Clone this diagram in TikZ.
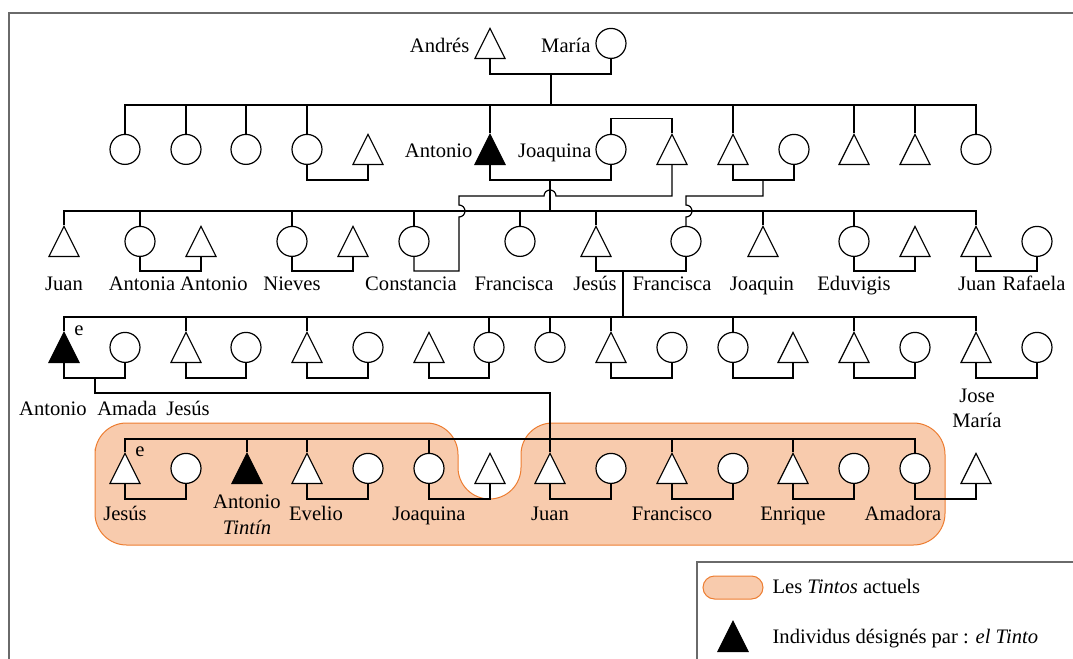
\documentclass[tikz,border=0pt]{standalone}
\usepackage{fontspec}
\setmainfont{Liberation Serif}
\usepackage{tikz}
\usetikzlibrary{shapes.geometric}
\definecolor{tintfill}{HTML}{F8CBAD}
\definecolor{tintline}{HTML}{ED7D31}
\definecolor{framegray}{HTML}{6A6A6A}

\begin{document}
\begin{tikzpicture}[x=0.5pt,y=-0.5pt,line width=0.6pt,
	man/.style={draw,fill=white,isosceles triangle,isosceles triangle stretches,shape border rotate=90,minimum width=15pt,minimum height=15pt,inner sep=0pt,anchor=south},
	woman/.style={draw,fill=white,circle,minimum size=15pt,inner sep=0pt,anchor=south},
	tinto/.style={man,fill=black},
	nm/.style={inner sep=0pt,anchor=base,font=\fontsize{10.3}{12}\selectfont},
	tintos/.style={fill=tintfill,draw=tintline,line width=0.5pt},
	cadre/.style={draw=framegray,line width=0.75pt}]
		\useasboundingbox (0,0) rectangle (1073,659);
		\draw[cadre] (9,659) -- (9,13) -- (1073,13);
		\filldraw[tintos,rounded corners=15.75pt] (95,480) -- (95,423) -- (458,423) -- (458,499) -- (521,499) -- (521,423) -- (945,423) -- (945,545) -- (95,545) -- cycle;

		\node[man] (andres) at (490,59) {};
		\node[woman] (maria) at (611,59) {};
		\node[nm,anchor=base east] (l_andres) at (470,52) {Andrés};
		\node[nm,anchor=base east] (l_maria) at (591,52) {María};

		\node[woman] (c11) at (125,165) {};
		\node[woman] (c12) at (186,165) {};
		\node[woman] (c13) at (246,165) {};
		\node[woman] (c14) at (307,165) {};
		\node[man] (h14) at (368,165) {};
		\node[tinto] (antonio1) at (490,165) {};
		\node[woman] (joaquina1) at (611,165) {};
		\node[man] (h2joaq) at (672,165) {};
		\node[man] (s15) at (733,165) {};
		\node[woman] (w15) at (794,165) {};
		\node[man] (s16) at (854,165) {};
		\node[man] (s17) at (915,165) {};
		\node[woman] (c18) at (976,165) {};
		\node[nm,anchor=base east] (l_antonio1) at (473,157) {Antonio};
		\node[nm,anchor=base east] (l_joaquina1) at (592,157) {Joaquina};

		\node[man] (juan2) at (64,257) {};
		\node[woman] (antonia2) at (140,257) {};
		\node[man] (antonio2) at (201,257) {};
		\node[woman] (nieves2) at (292,257) {};
		\node[man] (hnieves2) at (353,257) {};
		\node[woman] (constancia2) at (414,257) {};
		\node[woman] (franciscaA2) at (520,257) {};
		\node[man] (jesus2) at (596,257) {};
		\node[woman] (franciscaB2) at (686,257) {};
		\node[man] (joaquin2) at (763,257) {};
		\node[woman] (eduvigis2) at (854,257) {};
		\node[man] (heduvigis2) at (915,257) {};
		\node[man] (juanB2) at (976,257) {};
		\node[woman] (rafaela2) at (1037,257) {};
		\node[nm] (l_juan2) at (64,290) {Juan};
		\node[nm] (l_antonia2) at (142,290) {Antonia};
		\node[nm] (l_antonio2) at (214,290) {Antonio};
		\node[nm] (l_nieves2) at (292,290) {Nieves};
		\node[nm] (l_constancia2) at (411,290) {Constancia};
		\node[nm] (l_franciscaA2) at (514,290) {Francisca};
		\node[nm] (l_jesus2) at (595,290) {Jesús};
		\node[nm] (l_franciscaB2) at (672,290) {Francisca};
		\node[nm] (l_joaquin2) at (762,290) {Joaquin};
		\node[nm] (l_eduvigis2) at (854,290) {Eduvigis};
		\node[nm] (l_juanB2) at (977,290) {Juan};
		\node[nm] (l_rafaela2) at (1034,290) {Rafaela};

		\node[tinto] (antonio3) at (64,363) {};
		\node[woman] (amada3) at (125,363) {};
		\node[man] (jesus3) at (186,363) {};
		\node[woman] (w3a) at (246,363) {};
		\node[man] (m3b) at (307,363) {};
		\node[woman] (w3b) at (368,363) {};
		\node[man] (m3c) at (429,363) {};
		\node[woman] (w3c) at (489,363) {};
		\node[woman] (w3d) at (550,363) {};
		\node[man] (m3e) at (611,363) {};
		\node[woman] (w3e) at (672,363) {};
		\node[woman] (w3f) at (733,363) {};
		\node[man] (m3f) at (793,363) {};
		\node[man] (m3g) at (854,363) {};
		\node[woman] (w3g) at (915,363) {};
		\node[man] (josemaria3) at (976,363) {};
		\node[woman] (w3h) at (1037,363) {};
		\node[nm,anchor=center] (e3) at (79,331) {e};
		\node[nm] (l_antonio3) at (53,415) {Antonio};
		\node[nm] (l_amada3) at (127,415) {Amada};
		\node[nm] (l_jesus3) at (188,415) {Jesús};
		\node[nm] (l_jose3) at (977,402) {Jose};
		\node[nm] (l_maria3) at (977,427) {María};

		\node[man] (jesus4) at (125,484) {};
		\node[woman] (w4a) at (186,484) {};
		\node[tinto] (antonio4) at (247,484) {};
		\node[man] (evelio4) at (307,484) {};
		\node[woman] (w4b) at (368,484) {};
		\node[woman] (joaquina4) at (429,484) {};
		\node[man] (m4c) at (490,484) {};
		\node[man] (juan4) at (550,484) {};
		\node[woman] (w4d) at (611,484) {};
		\node[man] (francisco4) at (672,484) {};
		\node[woman] (w4e) at (733,484) {};
		\node[man] (enrique4) at (793,484) {};
		\node[woman] (w4f) at (854,484) {};
		\node[woman] (amadora4) at (915,484) {};
		\node[man] (m4g) at (976,484) {};
		\node[nm,anchor=center] (e4) at (140,452) {e};
		\node[nm] (l_jesus4) at (125,520) {Jesús};
		\node[nm] (l_antonio4) at (247,508) {Antonio};
		\node[nm] (l_tintin4) at (247,534) {\textit{Tintín}};
		\node[nm] (l_evelio4) at (316,520) {Evelio};
		\node[nm] (l_joaquina4) at (429,520) {Joaquina};
		\node[nm] (l_juan4) at (550,520) {Juan};
		\node[nm] (l_francisco4) at (672,520) {Francisco};
		\node[nm] (l_enrique4) at (793,520) {Enrique};
		\node[nm] (l_amadora4) at (903,520) {Amadora};

		\coordinate (d0) at (551,74);
		\coordinate (s1) at (551,105);
		\draw (andres.south) |- (d0) -| (maria.south);
		\draw (d0) -- (s1);
		\draw (c11.north) |- (s1) -| (c18.north);
		\foreach \p in {c12,c13,c14,antonio1,s15,s16,s17}
			\draw (\p.north) -- (\p.north |- s1);
		\draw (c14.south) -- ++(0,15) -| (h14.south);
		\draw (joaquina1.north) -- ++(0,-15) -| (h2joaq.north);
		\coordinate (d1) at (550,180);
		\coordinate (s2) at (550,211);
		\draw (antonio1.south) |- (d1) -| (joaquina1.south);
		\draw (d1) -- (s2);
		\coordinate (d1b) at (763,180);
		\draw (s15.south) |- (d1b) -| (w15.south);
		\draw (h2joaq.south) |- (556,196) arc[start angle=0,end angle=180,radius=3pt] -- (459,196) -- (459,205) arc[start angle=90,end angle=-90,radius=3pt] -- (459,271) -| (constancia2.south);
		\draw (d1b) -- (763,196) -- (686,196) -- (686,205) arc[start angle=90,end angle=-90,radius=3pt] -- (franciscaB2.north);

		\draw (juan2.north) |- (s2) -| (juanB2.north);
		\foreach \p in {antonia2,nieves2,constancia2,franciscaA2,jesus2,joaquin2,eduvigis2}
			\draw (\p.north) -- (\p.north |- s2);
		\draw (antonia2.south) -- ++(0,14) -| (antonio2.south);
		\draw (nieves2.south) -- ++(0,14) -| (hnieves2.south);
		\draw (eduvigis2.south) -- ++(0,14) -| (heduvigis2.south);
		\draw (juanB2.south) -- ++(0,14) -| (rafaela2.south);
		\coordinate (d2) at (623,271);
		\coordinate (s3) at (623,317);
		\draw (jesus2.south) |- (d2) -| (franciscaB2.south);
		\draw (d2) -- (s3);

		\draw (antonio3.north) |- (s3) -| (josemaria3.north);
		\foreach \p in {jesus3,m3b,w3c,w3d,m3e,w3f,m3g}
			\draw (\p.north) -- (\p.north |- s3);
		\foreach \a/\b in {jesus3/w3a,m3b/w3b,m3c/w3c,m3e/w3e,w3f/m3f,m3g/w3g,josemaria3/w3h}
			\draw (\a.south) -- ++(0,15) -| (\b.south);
		\coordinate (d3) at (95,378);
		\coordinate (s4) at (550,439);
		\draw (antonio3.south) |- (d3) -| (amada3.south);
		\draw (d3) -- (95,393) -| (s4);

		\draw (jesus4.north) |- (s4) -| (amadora4.north);
		\foreach \p in {antonio4,evelio4,joaquina4,juan4,francisco4,enrique4}
			\draw (\p.north) -- (\p.north |- s4);
		\foreach \a/\b in {jesus4/w4a,evelio4/w4b,joaquina4/m4c,juan4/w4d,francisco4/w4e,enrique4/w4f,amadora4/m4g}
			\draw (\a.south) -- ++(0,15) -| (\b.south);

		\draw[cadre] (697,659) -- (697,562) -- (1073,562);
		\node[tintos,rounded corners=5.75pt,minimum width=30pt,minimum height=11.5pt] (leg_tintos) at (733,587.5) {};
		\node[tinto] (leg_tinto) at (733,652) {};
		\node[nm,anchor=base west] (l_tintos) at (772,593) {Les \textit{Tintos} actuels};
		\node[nm,anchor=base west] (l_tinto) at (772,643) {Individus désignés par : \textit{el Tinto}};
	\end{tikzpicture}
\end{document}
